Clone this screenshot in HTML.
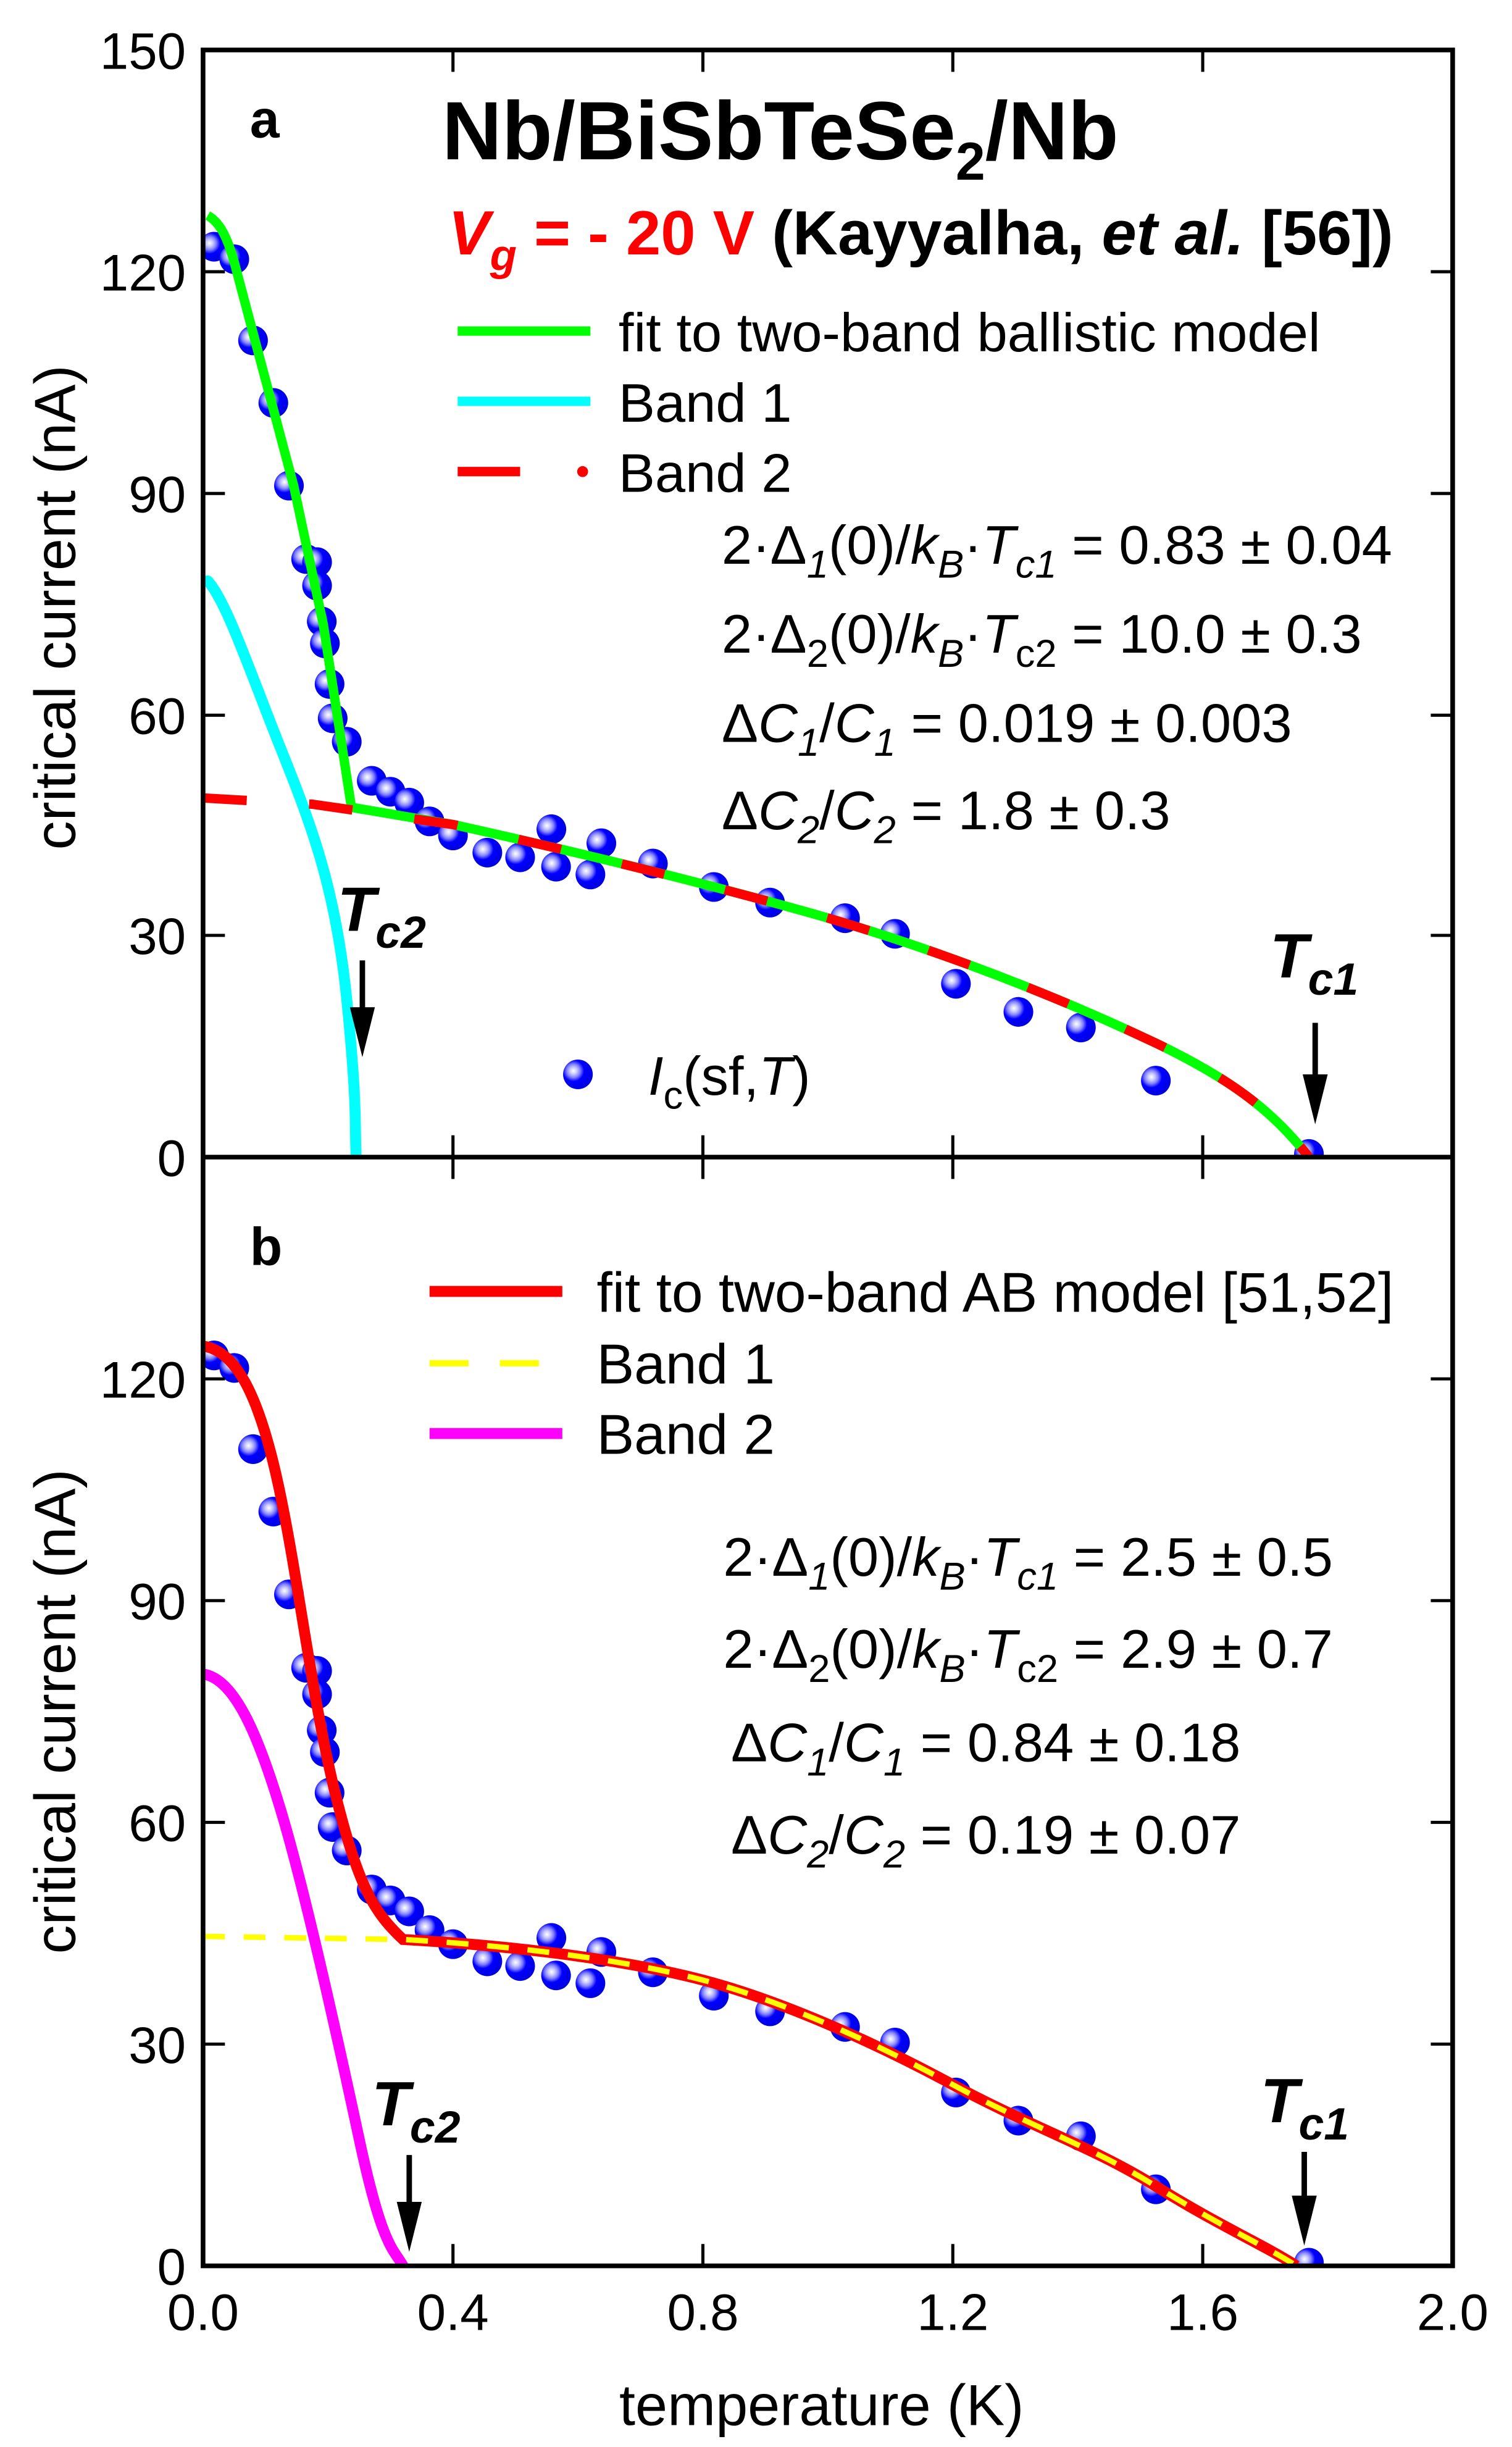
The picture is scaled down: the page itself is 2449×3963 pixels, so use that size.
<!DOCTYPE html>
<html><head><meta charset="utf-8"><style>
html,body{margin:0;padding:0;background:#fff}
svg{display:block}
text{font-family:"Liberation Sans",Arial,sans-serif}
</style></head><body>
<svg width="2449" height="3963" viewBox="0 0 968 1567" preserveAspectRatio="none" xmlns="http://www.w3.org/2000/svg">
<defs>
<radialGradient id="b" cx="0.35" cy="0.38" r="0.65">
<stop offset="0" stop-color="#fff"/><stop offset="0.18" stop-color="#c8c8ff"/><stop offset="0.35" stop-color="#8080ff"/><stop offset="0.55" stop-color="#0000ff"/><stop offset="1" stop-color="#0000e0"/></radialGradient>
<g id="pts">
<circle cx="137" cy="158" r="9.5"/><circle cx="150" cy="166" r="9.5"/><circle cx="162" cy="218" r="9.5"/><circle cx="175" cy="258" r="9.5"/><circle cx="185" cy="311" r="9.5"/><circle cx="196" cy="358" r="9.5"/><circle cx="203" cy="360" r="9.5"/><circle cx="203" cy="375" r="9.5"/><circle cx="206" cy="398" r="9.5"/><circle cx="208" cy="412" r="9.5"/><circle cx="211" cy="438" r="9.5"/><circle cx="213" cy="460" r="9.5"/><circle cx="222" cy="475" r="9.5"/><circle cx="238" cy="500" r="9.5"/><circle cx="250" cy="507" r="9.5"/><circle cx="262" cy="514" r="9.5"/><circle cx="275" cy="526" r="9.5"/><circle cx="290" cy="535" r="9.5"/><circle cx="312" cy="546" r="9.5"/><circle cx="333" cy="549" r="9.5"/><circle cx="353" cy="531" r="9.5"/><circle cx="356" cy="555" r="9.5"/><circle cx="378" cy="560" r="9.5"/><circle cx="385" cy="540" r="9.5"/><circle cx="418" cy="553" r="9.5"/><circle cx="457" cy="568" r="9.5"/><circle cx="493" cy="578" r="9.5"/><circle cx="541" cy="588" r="9.5"/><circle cx="573" cy="598" r="9.5"/><circle cx="612" cy="630" r="9.5"/><circle cx="652" cy="648" r="9.5"/><circle cx="692" cy="658" r="9.5"/><circle cx="740" cy="692" r="9.5"/><circle cx="838" cy="739" r="9.5"/>
</g>
<clipPath id="ca"><rect x="130" y="32" width="800" height="709"/></clipPath>
<clipPath id="cb"><rect x="130" y="741" width="800" height="710"/></clipPath>
</defs>

<g clip-path="url(#ca)">
<g fill="url(#b)"><use href="#pts"/></g>
<path d="M133,372 C145,385 160,430 180,480 S215,570 222,640 S227,720 228,741" fill="none" stroke="#00ffff" stroke-width="7" stroke-linecap="round"/>
<path d="M133,138 C140,142 145,150 150,168 L188,311 L207,400 L225,517 L290,528 C380,548 460,568 520,585 S660,630 740,668 C790,692 815,712 838,741" fill="none" stroke="#00ff00" stroke-width="6"/>
<path d="M130,511 L200,515 L290,528 C380,548 460,568 520,585 S660,630 740,668 C790,692 815,712 838,741" fill="none" stroke="#ff0000" stroke-width="6" stroke-dasharray="28,40"/>
</g>
<g clip-path="url(#cb)">
<g fill="url(#b)" transform="translate(0,710)"><use href="#pts"/></g>
<path d="M130,1072 C150,1075 165,1110 180,1160 S215,1300 230,1370 S252,1440 258,1451" fill="none" stroke="#ff00ff" stroke-width="7" stroke-linecap="round"/>
<path d="M130,862 C150,865 165,890 178,950 S200,1090 215,1150 S240,1225 258,1242 C330,1246 400,1255 450,1268 S560,1308 610,1335 S700,1375 740,1400 S810,1438 830,1451" fill="none" stroke="#ff0000" stroke-width="7"/>
<path d="M130,1240 L258,1242 C330,1246 400,1255 450,1268 S560,1308 610,1335 S700,1375 740,1400 S810,1438 830,1451" fill="none" stroke="#ffff00" stroke-width="3.5" stroke-dasharray="14,12"/>
</g>

<g stroke="#000" stroke-width="3" fill="none">
<rect x="130" y="32" width="800" height="1419"/>
<line x1="130" y1="741" x2="930" y2="741"/>
</g>
<g stroke="#000" stroke-width="2">
<path d="M290,741v-14M450,741v-14M610,741v-14M770,741v-14M290,741v14M450,741v14M610,741v14M770,741v14
M290,1451v-14M450,1451v-14M610,1451v-14M770,1451v-14
M290,32v14M450,32v14M610,32v14M770,32v14"/>
<path d="M130,174h14M130,316h14M130,458h14M130,599h14M930,174h-14M930,316h-14M930,458h-14M930,599h-14
M130,883h14M130,1025h14M130,1167h14M130,1309h14M930,883h-14M930,1025h-14M930,1167h-14M930,1309h-14"/>
</g>

<g font-size="33" text-anchor="end" fill="#000">
<text x="119" y="44">150</text><text x="119" y="186">120</text><text x="119" y="328">90</text><text x="119" y="470">60</text><text x="119" y="611">30</text><text x="119" y="753">0</text>
<text x="119" y="895">120</text><text x="119" y="1037">90</text><text x="119" y="1179">60</text><text x="119" y="1321">30</text><text x="119" y="1463">0</text>
</g>
<g font-size="33" text-anchor="middle">
<text x="130" y="1492">0.0</text><text x="290" y="1492">0.4</text><text x="450" y="1492">0.8</text><text x="610" y="1492">1.2</text><text x="770" y="1492">1.6</text><text x="930" y="1492">2.0</text>
<text x="526" y="1553" font-size="37">temperature (K)</text>
</g>
<text transform="translate(48,389) rotate(-90)" font-size="37" text-anchor="middle">critical current (nA)</text>
<text transform="translate(48,1096) rotate(-90)" font-size="37" text-anchor="middle">critical current (nA)</text>

<text x="160" y="88" font-size="34" font-weight="bold">a</text>
<text x="283" y="102" font-size="53" font-weight="bold">Nb/BiSbTeSe<tspan font-size="34" dy="13">2</tspan><tspan dy="-13">/Nb</tspan></text>
<text x="287" y="163" font-size="40" font-weight="bold"><tspan fill="#ff0000" font-style="italic">V</tspan><tspan fill="#ff0000" font-style="italic" font-size="28" dy="10">g</tspan><tspan fill="#ff0000" dy="-10"> = - 20 V</tspan> (Kayyalha, <tspan font-style="italic">et al.</tspan> [56])</text>
<line x1="293" y1="212" x2="378" y2="212" stroke="#00ff00" stroke-width="6"/>
<text x="396" y="225" font-size="35">fit to two-band ballistic model</text>
<line x1="293" y1="257" x2="378" y2="257" stroke="#00ffff" stroke-width="6"/>
<text x="396" y="270" font-size="35">Band 1</text>
<line x1="293" y1="302" x2="333" y2="302" stroke="#ff0000" stroke-width="6"/>
<circle cx="373" cy="302" r="3.5" fill="#ff0000"/>
<text x="396" y="315" font-size="35">Band 2</text>
<g font-size="35">
<text x="462" y="361">2·Δ<tspan font-style="italic" font-size="25" dy="9">1</tspan><tspan dy="-9">(0)/</tspan><tspan font-style="italic">k</tspan><tspan font-style="italic" font-size="25" dy="9">B</tspan><tspan dy="-9">·</tspan><tspan font-style="italic">T</tspan><tspan font-style="italic" font-size="25" dy="9">c1</tspan><tspan dy="-9"> = 0.83 ± 0.04</tspan></text>
<text x="462" y="418">2·Δ<tspan font-size="25" dy="9">2</tspan><tspan dy="-9">(0)/</tspan><tspan font-style="italic">k</tspan><tspan font-style="italic" font-size="25" dy="9">B</tspan><tspan dy="-9">·</tspan><tspan font-style="italic">T</tspan><tspan font-size="25" dy="9">c2</tspan><tspan dy="-9"> = 10.0 ± 0.3</tspan></text>
<text x="462" y="475">Δ<tspan font-style="italic">C</tspan><tspan font-style="italic" font-size="25" dy="9">1</tspan><tspan dy="-9">/</tspan><tspan font-style="italic">C</tspan><tspan font-style="italic" font-size="25" dy="9">1</tspan><tspan dy="-9"> = 0.019 ± 0.003</tspan></text>
<text x="462" y="531">Δ<tspan font-style="italic">C</tspan><tspan font-style="italic" font-size="25" dy="9">2</tspan><tspan dy="-9">/</tspan><tspan font-style="italic">C</tspan><tspan font-style="italic" font-size="25" dy="9">2</tspan><tspan dy="-9"> = 1.8 ± 0.3</tspan></text>
</g>
<circle cx="370" cy="688" r="9.5" fill="url(#b)"/>
<text x="415" y="701" font-size="35"><tspan font-style="italic">I</tspan><tspan font-size="25" dy="9">c</tspan><tspan dy="-9">(sf,</tspan><tspan font-style="italic">T</tspan>)</text>
<text x="216" y="596" font-size="40" font-weight="bold" font-style="italic">T<tspan font-size="29" dy="11">c2</tspan></text>
<text x="813" y="626" font-size="40" font-weight="bold" font-style="italic">T<tspan font-size="29" dy="11">c1</tspan></text>
<g stroke="#000" stroke-width="3.5"><line x1="232" y1="615" x2="232" y2="655"/><line x1="842" y1="655" x2="842" y2="698"/>
<line x1="262" y1="1380" x2="262" y2="1418"/><line x1="835" y1="1378" x2="835" y2="1416"/></g>
<g fill="#000"><path d="M224,645 L240,645 L232,677Z"/><path d="M834,688 L850,688 L842,720Z"/>
<path d="M254,1410 L270,1410 L262,1442Z"/><path d="M827,1406 L843,1406 L835,1438Z"/></g>

<text x="160" y="810" font-size="34" font-weight="bold">b</text>
<line x1="275" y1="827" x2="360" y2="827" stroke="#ff0000" stroke-width="7"/>
<text x="382" y="840" font-size="36">fit to two-band AB model [51,52]</text>
<line x1="275" y1="873" x2="300" y2="873" stroke="#ffff00" stroke-width="4"/><line x1="320" y1="873" x2="345" y2="873" stroke="#ffff00" stroke-width="4"/>
<text x="382" y="886" font-size="36">Band 1</text>
<line x1="275" y1="918" x2="360" y2="918" stroke="#ff00ff" stroke-width="7"/>
<text x="382" y="931" font-size="36">Band 2</text>
<g font-size="35">
<text x="463" y="1009">2·Δ<tspan font-style="italic" font-size="25" dy="9">1</tspan><tspan dy="-9">(0)/</tspan><tspan font-style="italic">k</tspan><tspan font-style="italic" font-size="25" dy="9">B</tspan><tspan dy="-9">·</tspan><tspan font-style="italic">T</tspan><tspan font-style="italic" font-size="25" dy="9">c1</tspan><tspan dy="-9"> = 2.5 ± 0.5</tspan></text>
<text x="463" y="1068">2·Δ<tspan font-size="25" dy="9">2</tspan><tspan dy="-9">(0)/</tspan><tspan font-style="italic">k</tspan><tspan font-style="italic" font-size="25" dy="9">B</tspan><tspan dy="-9">·</tspan><tspan font-style="italic">T</tspan><tspan font-size="25" dy="9">c2</tspan><tspan dy="-9"> = 2.9 ± 0.7</tspan></text>
<text x="468" y="1128">Δ<tspan font-style="italic">C</tspan><tspan font-style="italic" font-size="25" dy="9">1</tspan><tspan dy="-9">/</tspan><tspan font-style="italic">C</tspan><tspan font-style="italic" font-size="25" dy="9">1</tspan><tspan dy="-9"> = 0.84 ± 0.18</tspan></text>
<text x="468" y="1187">Δ<tspan font-style="italic">C</tspan><tspan font-style="italic" font-size="25" dy="9">2</tspan><tspan dy="-9">/</tspan><tspan font-style="italic">C</tspan><tspan font-style="italic" font-size="25" dy="9">2</tspan><tspan dy="-9"> = 0.19 ± 0.07</tspan></text>
</g>
<text x="238" y="1361" font-size="40" font-weight="bold" font-style="italic">T<tspan font-size="29" dy="11">c2</tspan></text>
<text x="807" y="1359" font-size="40" font-weight="bold" font-style="italic">T<tspan font-size="29" dy="11">c1</tspan></text>
</svg>
</body></html>
